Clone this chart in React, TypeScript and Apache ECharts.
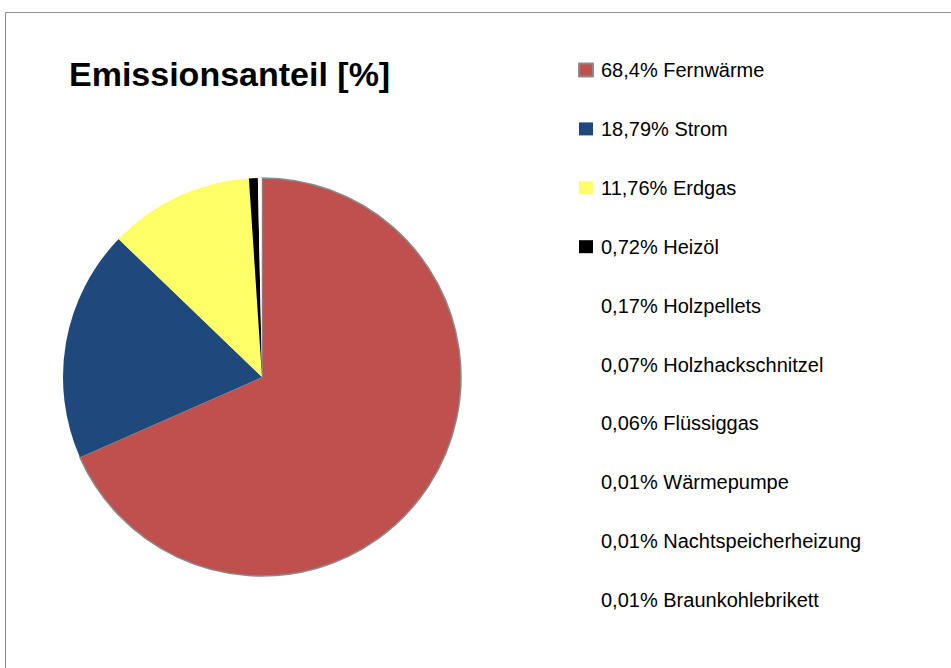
import React, { useEffect, useRef } from "react";
import * as echarts from "echarts";

const categories = [
  "Fernwärme",
  "Strom",
  "Erdgas",
  "Heizöl",
  "Holzpellets",
  "Holzhackschnitzel",
  "Flüssiggas",
  "Wärmepumpe",
  "Nachtspeicherheizung",
  "Braunkohlebrikett",
];
const values = [68.4, 18.79, 11.76, 0.72, 0.17, 0.07, 0.06, 0.01, 0.01, 0.01];
const colors = [
  "#c0504d",
  "#1f497d",
  "#ffff66",
  "#000000",
  "#ffffff",
  "#ffffff",
  "#ffffff",
  "#ffffff",
  "#ffffff",
  "#ffffff",
];
const titleText = "Emissionsanteil [%]";

const fmt = (v: number) => String(v).replace(".", ",") + "%";

export default function App() {
  const ref = useRef<HTMLDivElement>(null);
  useEffect(() => {
    if (!ref.current) return;
    const chart = echarts.init(ref.current, undefined, { renderer: "svg" });
    const labelMap: Record<string, string> = {};
    categories.forEach((c, i) => (labelMap[c] = fmt(values[i]) + " " + c));
    chart.setOption({
      animation: false,
      backgroundColor: "#ffffff",
      title: {
        text: titleText,
        left: 64,
        top: 52,
        padding: 5,
        textStyle: {
          fontFamily: "Liberation Sans",
          fontWeight: "bold",
          fontSize: 34,
          color: "#000",
        },
      },
      graphic: [
        {
          type: "rect",
          shape: { x: 5.5, y: 12.5, width: 1000, height: 800 },
          style: { fill: "none", stroke: "#8c8c8c", lineWidth: 1 },
          silent: true,
        },
      ],
      legend: {
        orient: "vertical",
        left: 573,
        top: 54,
        padding: 5,
        itemWidth: 14,
        itemHeight: 13,
        itemGap: 36.9,
        icon: "rect",
        formatter: (name: string) => labelMap[name],
        textStyle: {
          fontFamily: "Liberation Sans",
          fontSize: 20,
          lineHeight: 22,
          color: "#000",
          padding: [0, 0, 0, 3],
        },
        data: categories,
      },
      series: [
        {
          type: "pie",
          center: [262, 377],
          radius: 199,
          startAngle: 90,
          clockwise: true,
          label: { show: false },
          labelLine: { show: false },
          emphasis: { disabled: true },
          data: categories.map((c, i) => ({
            name: c,
            value: values[i],
            itemStyle:
              i === 0
                ? { color: colors[i], borderColor: "#8a8a8a", borderWidth: 1.5 }
                : { color: colors[i], borderWidth: 0 },
          })),
        },
      ],
    });
    return () => chart.dispose();
  }, []);
  return (
    <div
      ref={ref}
      style={{ position: "fixed", left: 0, top: 0, width: 951, height: 668 }}
    />
  );
}
